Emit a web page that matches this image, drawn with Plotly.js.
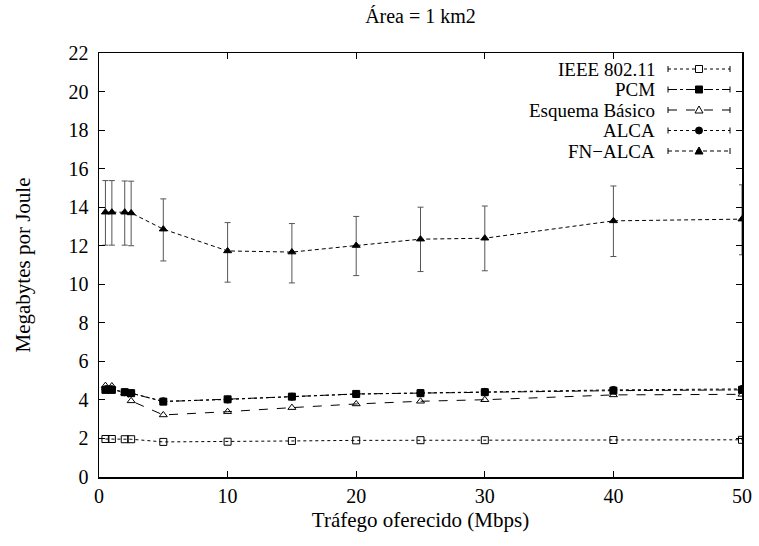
<!DOCTYPE html>
<html>
<head>
<meta charset="utf-8">
<script src="https://cdn.plot.ly/plotly-3.0.1.min.js"></script>
<style>html,body{margin:0;padding:0;background:#fff;}#chart{width:759px;height:546px;}</style>
</head>
<body>
<div id="chart"></div>
<script>
// Offered traffic (Mbps)
const trafego = [0.5, 1, 2, 2.5, 5, 10, 15, 20, 25, 30, 40, 50];
// Series (Megabytes por Joule)
const ieee80211 = [1.97, 1.97, 1.96, 1.96, 1.82, 1.83, 1.87, 1.90, 1.91, 1.91, 1.92, 1.93];
const pcm       = [4.52, 4.52, 4.40, 4.35, 3.91, 4.03, 4.17, 4.31, 4.35, 4.40, 4.48, 4.52];
const esquema   = [4.74, 4.72, 4.35, 3.95, 3.22, 3.39, 3.60, 3.79, 3.93, 4.01, 4.26, 4.29];
const alca      = [4.55, 4.55, 4.40, 4.35, 3.93, 4.02, 4.17, 4.30, 4.36, 4.42, 4.52, 4.57];
const fnAlca    = [13.74, 13.74, 13.74, 13.70, 12.86, 11.73, 11.67, 12.01, 12.34, 12.39, 13.29, 13.38];
const fnAlcaHi  = [15.38, 15.38, 15.36, 15.35, 14.43, 13.20, 13.15, 13.52, 14.00, 14.06, 15.10, 15.16];
const fnAlcaLo  = [12.03, 12.03, 12.03, 12.00, 11.21, 10.11, 10.07, 10.45, 10.66, 10.70, 11.44, 11.53];
const seriesNames = ["IEEE 802.11", "PCM", "Esquema Básico", "ALCA", "FN\u2212ALCA"];
const xTicks = [0, 10, 20, 30, 40, 50];
const yTicks = [0, 2, 4, 6, 8, 10, 12, 14, 16, 18, 20, 22];

const font = "Liberation Serif";
const styles = [
  {dash: "dot", symbol: "square-open"},
  {dash: "dashdot", symbol: "square"},
  {dash: "dash", symbol: "triangle-up-open"},
  {dash: "3px,3px", symbol: "circle"},
  {dash: "4px,3px", symbol: "triangle-up"}
];
const seriesValues = [ieee80211, pcm, esquema, alca, fnAlca];

const data = seriesValues.map((y, i) => ({
  x: trafego, y: y, name: seriesNames[i], type: "scatter", mode: "lines+markers",
  showlegend: false,
  line: {color: "#000", width: 1, dash: styles[i].dash},
  marker: {symbol: styles[i].symbol, size: 7, color: "#000", line: {color: "#000", width: 1}}
}));
data[4].error_y = {
  type: "data", symmetric: false,
  array: fnAlca.map((v, i) => fnAlcaHi[i] - v),
  arrayminus: fnAlca.map((v, i) => v - fnAlcaLo[i]),
  color: "#555", thickness: 1, width: 3
};

// Gnuplot-style key (text right-aligned, sample on the right), placed in paper coordinates
const L = 99, R = 742, T = 53, B = 477;
const px = p => (p - L) / (R - L);
const py = p => (B - p) / (B - T);
const annotations = [];
const shapes = [];
seriesNames.forEach((name, i) => {
  const row = 69 + i * 20.5;
  annotations.push({
    text: name, xref: "paper", yref: "paper", x: px(656), y: py(row),
    xanchor: "right", yanchor: "middle", showarrow: false, borderpad: 0,
    font: {family: font, size: 19, color: "#000"}
  });
  const ln = {color: "#000", width: 1};
  shapes.push({type: "line", xref: "paper", yref: "paper", x0: px(668), x1: px(730), y0: py(row), y1: py(row),
               line: {color: "#000", width: 1, dash: styles[i].dash}});
  shapes.push({type: "line", xref: "paper", yref: "paper", x0: px(668), x1: px(668), y0: py(row - 3), y1: py(row + 3), line: ln});
  shapes.push({type: "line", xref: "paper", yref: "paper", x0: px(730), x1: px(730), y0: py(row - 3), y1: py(row + 3), line: ln});
  const cx = 699, s = 3.5;
  const sym = styles[i].symbol;
  const filled = sym.indexOf("open") < 0;
  const fill = filled ? "#000" : "#fff";
  if (sym.startsWith("square")) {
    shapes.push({type: "rect", xref: "paper", yref: "paper", x0: px(cx - s), x1: px(cx + s), y0: py(row + s), y1: py(row - s),
                 fillcolor: fill, line: ln});
  } else if (sym.startsWith("circle")) {
    shapes.push({type: "circle", xref: "paper", yref: "paper", x0: px(cx - s), x1: px(cx + s), y0: py(row + s), y1: py(row - s),
                 fillcolor: fill, line: ln});
  } else {
    const p = `M${px(cx - 4)},${py(row + 3)} L${px(cx + 4)},${py(row + 3)} L${px(cx)},${py(row - 4)} Z`;
    shapes.push({type: "path", xref: "paper", yref: "paper", path: p, fillcolor: fill, line: ln});
  }
});

const layout = {
  width: 759, height: 546,
  margin: {l: L, r: 759 - R, t: T, b: 546 - B},
  paper_bgcolor: "#fff", plot_bgcolor: "#fff",
  font: {family: font, size: 20, color: "#000"},
  title: {text: "Área = 1 km2", x: 0.5, xref: "paper", y: 0.97, yanchor: "middle",
          font: {family: font, size: 20, color: "#000"}},
  xaxis: {
    range: [0, 50], tickvals: xTicks, ticktext: xTicks.map(String),
    showgrid: false, zeroline: false, showline: true, linecolor: "#000", linewidth: 1.5,
    mirror: "allticks", ticks: "inside", ticklen: 6, tickcolor: "#000",
    tickfont: {family: font, size: 20},
    title: {text: "Tráfego oferecido (Mbps)", font: {family: font, size: 21}, standoff: 7}
  },
  yaxis: {
    range: [0, 22], tickvals: yTicks, ticktext: yTicks.map(String),
    showgrid: false, zeroline: false, showline: true, linecolor: "#000", linewidth: 1.5,
    mirror: "allticks", ticks: "inside", ticklen: 6, tickcolor: "#000",
    ticklabelstandoff: 5,
    tickfont: {family: font, size: 20},
    title: {text: "Megabytes por Joule", font: {family: font, size: 21}, standoff: 32}
  },
  annotations: annotations,
  shapes: shapes,
  showlegend: false
};
Plotly.newPlot("chart", data, layout, {displayModeBar: false, staticPlot: true});
</script>
</body>
</html>
